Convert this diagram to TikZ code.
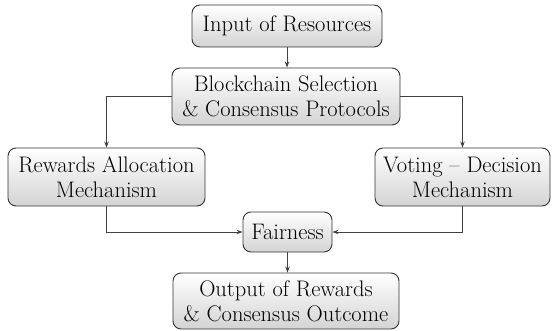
\documentclass[tikz,border=0pt]{standalone}
\usetikzlibrary{arrows.meta}
\begin{document}
\begin{tikzpicture}[x=1pt,y=1pt,
  box/.style={draw=black!80, line width=0.9pt, rounded corners=8pt,
    top color=white, bottom color=black!17, align=center,
    inner sep=0pt, font=\rmfamily\fontsize{22.5}{25}\selectfont},
  conn/.style={draw=black!75, line width=0.9pt, -{Stealth[length=6pt,width=4.5pt]}}]
\useasboundingbox (0,0) rectangle (553,330);
\node[box, minimum width=190, minimum height=42] (in) at (287,304) {Input of Resources};
\node[box, minimum width=228, minimum height=57] (bc) at (286,233.5) {Blockchain Selection\\\& Consensus Protocols};
\node[box, minimum width=197, minimum height=58] (rw) at (106.5,153) {Rewards Allocation\\Mechanism};
\node[box, minimum width=175, minimum height=58] (vt) at (462.5,153) {Voting \textendash{} Decision\\Mechanism};
\node[box, minimum width=89, minimum height=40] (fa) at (287.5,98) {Fairness};
\node[box, minimum width=226, minimum height=56] (out) at (286,29) {Output of Rewards\\\& Consensus Outcome};
\draw[conn] (in.south) -- (bc.north -| in.south);
\draw[conn] (bc.west) -| (rw.north);
\draw[conn] (bc.east) -| (vt.north);
\draw[conn] (rw.south) |- (fa.west);
\draw[conn] (vt.south) |- (fa.east);
\draw[conn] (fa.south) -- (out.north -| fa.south);
\end{tikzpicture}
\end{document}
